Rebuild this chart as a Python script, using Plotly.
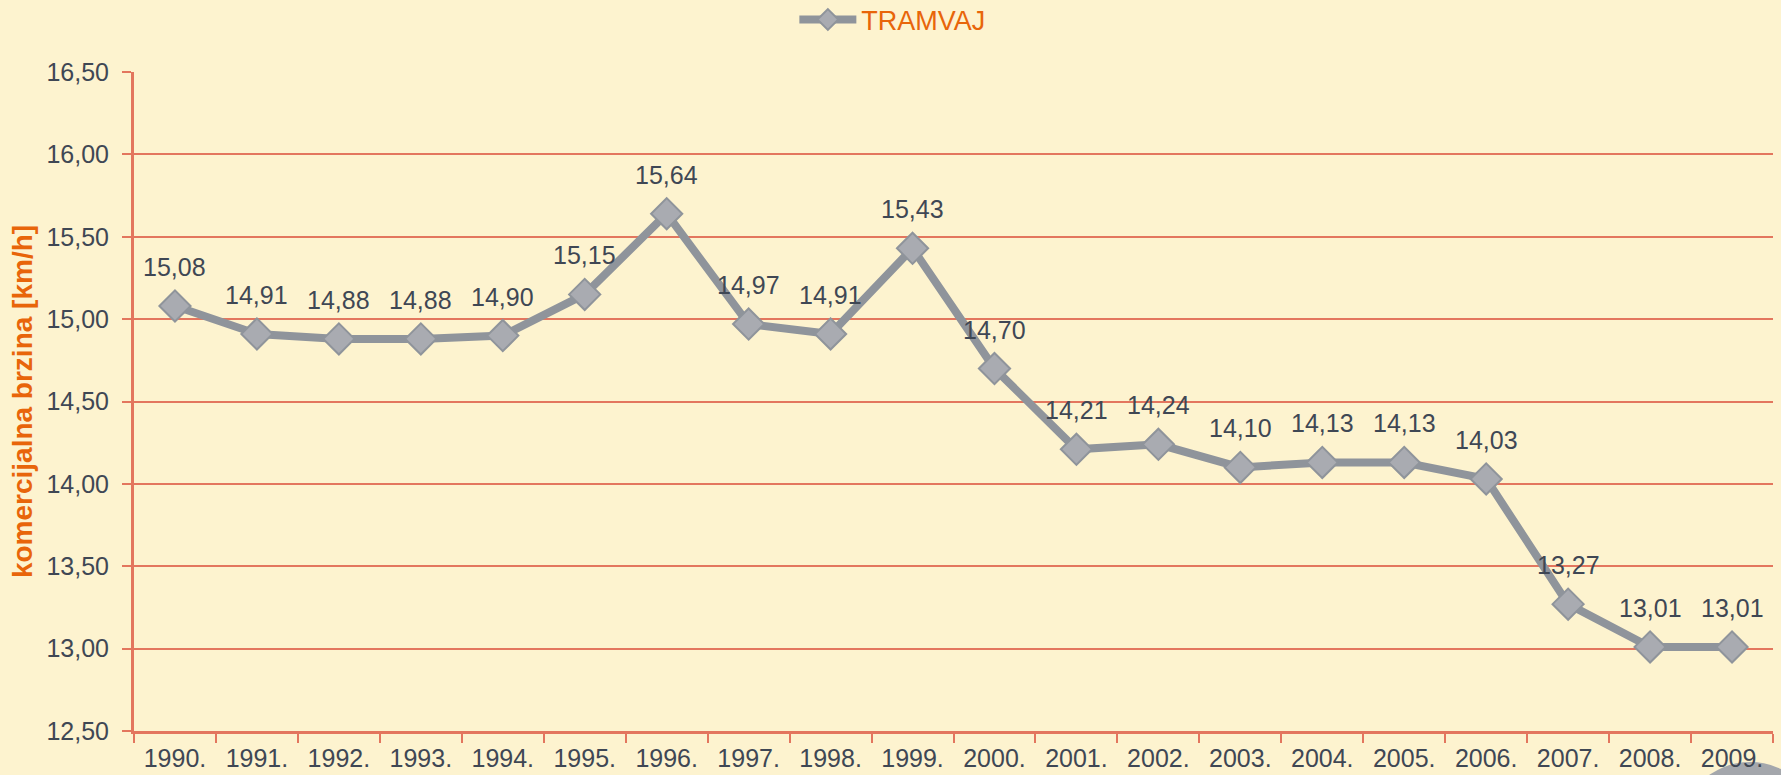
import plotly.graph_objects as go

years = ["1990.", "1991.", "1992.", "1993.", "1994.", "1995.", "1996.", "1997.", "1998.", "1999.",
         "2000.", "2001.", "2002.", "2003.", "2004.", "2005.", "2006.", "2007.", "2008.", "2009."]
tramvaj = [15.08, 14.91, 14.88, 14.88, 14.90, 15.15, 15.64, 14.97, 14.91, 15.43,
           14.70, 14.21, 14.24, 14.10, 14.13, 14.13, 14.03, 13.27, 13.01, 13.01]
series_name = "TRAMVAJ"
y_title = "komercijalna brzina [km/h]"

BG = "#FDF3CF"
GRID = "#E3765E"
TEXT = "#3F4754"
ORANGE = "#E8650A"
LINE = "#8F949B"
MARK = "#A9ABB1"
FONT = "Liberation Sans, Arial, sans-serif"

W, H = 1781, 775
L, R, T, B = 134, 8, 72, 44

fig = go.Figure()
fig.add_trace(go.Scatter(
    x=years, y=tramvaj, name=series_name,
    mode="lines+markers",
    line=dict(color=LINE, width=8),
    marker=dict(symbol="diamond", size=24, color=MARK, line=dict(color=LINE, width=2)),
    cliponaxis=False,
))

for i, (yr, v) in enumerate(zip(years, tramvaj)):
    fig.add_annotation(
        x=i, y=v, xref="x", yref="y", text=f"{v:.2f}".replace(".", ","),
        showarrow=False, yanchor="middle", xanchor="center", yshift=39,
        font=dict(family=FONT, size=25, color=TEXT),
    )

fig.update_layout(
    width=W, height=H,
    paper_bgcolor=BG, plot_bgcolor=BG,
    margin=dict(l=L, r=R, t=T, b=B, autoexpand=False),
    separators=",.",
    font=dict(family=FONT, size=25, color=TEXT),
    showlegend=True,
    legend=dict(orientation="h", x=0.463, xanchor="center", y=1.079, yanchor="middle",
                itemwidth=57,
                font=dict(family=FONT, size=27, color=ORANGE), bgcolor="rgba(0,0,0,0)"),
    shapes=[dict(type="circle", xref="paper", yref="paper", layer="below",
                 x0=0.9427, x1=1.0293, y0=-0.2625, y1=-0.0470,
                 fillcolor="#A4A7AC", line=dict(width=0))],
)

fig.update_xaxes(
    type="category", tickson="boundaries", range=[-0.5, len(years) - 0.5],
    showgrid=False, showline=True, linecolor=GRID, linewidth=3,
    ticks="outside", ticklen=9, tickwidth=2, tickcolor=GRID,
    tickfont=dict(family=FONT, size=25, color=TEXT),
    ticklabelstandoff=3,
    zeroline=False,
)
fig.update_yaxes(
    range=[12.5, 16.5], dtick=0.5, tick0=12.5, tickformat=".2f",
    showgrid=True, gridcolor=GRID, gridwidth=2,
    showline=True, linecolor=GRID, linewidth=3,
    ticks="outside", ticklen=9, tickwidth=2, tickcolor=GRID,
    tickfont=dict(family=FONT, size=25, color=TEXT),
    ticklabelstandoff=8,
    zeroline=False,
    title=dict(text=y_title, font=dict(family=FONT, size=28, color=ORANGE, weight="bold"), standoff=6),
)

fig.write_html("out.html", config={"displayModeBar": False},
               post_script="document.body.style.margin='0';document.body.style.overflow='hidden';")
